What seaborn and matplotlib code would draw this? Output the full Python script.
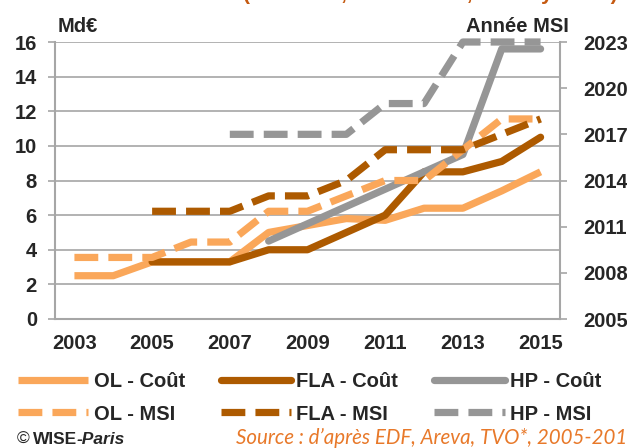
import numpy as np
import matplotlib
matplotlib.use("Agg")
import matplotlib.pyplot as plt
import seaborn as sns

# values
years = list(range(2003, 2016))
nan = np.nan
ol_cout = [2.5, 2.5, 3.3, 3.3, 3.3, 5.0, 5.4, 5.8, 5.7, 6.4, 6.4, 7.4, 8.5]
fla_cout = [nan, nan, 3.3, 3.3, 3.3, 4.0, 4.0, 5.0, 6.0, 8.5, 8.5, 9.1, 10.5]
hp_cout = [nan, nan, nan, nan, nan, 4.5, 5.5, 6.5, 7.5, 8.5, 9.5, 15.6, 15.6]
ol_msi = [2009, 2009, 2009, 2010, 2010, 2012, 2012, 2013, 2014, 2014, 2016, 2018, 2018]
fla_msi = [nan, nan, 2012, 2012, 2012, 2013, 2013, 2014, 2016, 2016, 2016, 2017, 2018]
hp_msi = [nan, nan, nan, nan, 2017, 2017, 2017, 2017, 2019, 2019, 2023, 2023, 2023]

x_labels = [str(y) for y in range(2003, 2016, 2)]
left_ticks = list(range(0, 17, 2))
right_ticks = list(range(2005, 2024, 3))

c_ol = "#FAA75A"
c_fla = "#AD5A00"
c_hp = "#969696"
c_grid = "#A6A6A6"

sns.set_style("white")
plt.rcParams["font.family"] = ["Liberation Sans", "DejaVu Sans"]
plt.rcParams["font.weight"] = "bold"

fig = plt.figure(figsize=(6.27, 4.48), dpi=100)
ax = fig.add_axes([55 / 627, 1 - 319 / 448, 505 / 627, 277 / 448])
ax2 = ax.twinx()

dash = (0, (3.3, 1.4))
lw = 5.2

l1 = sns.lineplot(x=years, y=ol_cout, ax=ax, color=c_ol, lw=lw, label="OL - Coût",
                  solid_capstyle="butt", legend=False).lines[-1]
l2 = sns.lineplot(x=years, y=fla_cout, ax=ax, color=c_fla, lw=lw, label="FLA - Coût",
                  solid_capstyle="round", legend=False).lines[-1]
l3 = sns.lineplot(x=years, y=hp_cout, ax=ax, color=c_hp, lw=lw, label="HP - Coût",
                  solid_capstyle="round", legend=False).lines[-1]
l4 = sns.lineplot(x=years, y=ol_msi, ax=ax2, color=c_ol, lw=lw, linestyle=dash,
                  label="OL - MSI", legend=False).lines[-1]
l5 = sns.lineplot(x=years, y=fla_msi, ax=ax2, color=c_fla, lw=lw, linestyle=dash,
                  label="FLA - MSI", legend=False).lines[-1]
l6 = sns.lineplot(x=years, y=hp_msi, ax=ax2, color=c_hp, lw=lw, linestyle=dash,
                  label="HP - MSI", legend=False, clip_on=False).lines[-1]

ax.set_xlim(2002.5, 2015.5)
ax.set_ylim(0, 16)
ax2.set_ylim(2005, 2023)
ax.set_yticks(left_ticks)
ax2.set_yticks(right_ticks)
ax.set_xticks(range(2003, 2016, 2))
ax.set_xticklabels(x_labels)
ax.set_xticks(np.arange(2002.5, 2016, 1), minor=True)

ax.yaxis.grid(True, color=c_grid, lw=1.2)
ax.set_axisbelow(True)

for a in (ax, ax2):
    for s in a.spines.values():
        s.set_visible(False)
for s in ("left", "bottom"):
    ax.spines[s].set_visible(True)
    ax.spines[s].set_color(c_grid)
    ax.spines[s].set_linewidth(1.5)
ax2.spines["right"].set_visible(True)
ax2.spines["right"].set_color(c_grid)
ax2.spines["right"].set_linewidth(1.5)

fs = 14.5
ax.tick_params(axis="y", length=5, width=1.2, color=c_grid, pad=8, labelsize=fs)
ax2.tick_params(axis="y", length=5, width=1.2, color=c_grid, pad=12, labelsize=fs)
ax.tick_params(axis="x", which="major", length=0, pad=11, labelsize=fs)
ax.tick_params(axis="x", which="minor", length=5, width=1.2, color=c_grid)
for t in ax.get_xticklabels() + ax.get_yticklabels() + ax2.get_yticklabels():
    t.set_fontweight("bold")

fig.text(58 / 627, 1 - 27 / 448, "Md€", fontsize=fs, fontweight="bold", va="center")
fig.text(569 / 627, 1 - 27 / 448, "Année MSI", fontsize=fs, fontweight="bold",
         va="center", ha="right")

# title cut off at the top edge, as in the reference
fig.text(618 / 627, 1.0, "(Olkiluoto, Flamanville, Hinkley Point)", fontsize=15,
         fontweight="bold", color="#C55A11", ha="right", va="baseline")

handles = [l1, l4, l2, l5, l3, l6]
fig.legend(handles, [h.get_label() for h in handles], ncol=3, loc="center left",
           bbox_to_anchor=(18 / 627, 1 - 398 / 448), frameon=False,
           handlelength=3.5, handletextpad=0.25, columnspacing=1.8,
           borderpad=0, borderaxespad=0, labelspacing=0.65,
           prop={"size": fs, "weight": "bold"})

t1 = fig.text(17 / 627, 1 - 439 / 448, "©", fontsize=12.5, fontweight="normal", va="center")
t2 = ax.annotate("WISE", xy=(1, 0.5), xycoords=t1, xytext=(2, 0), textcoords="offset points",
                 fontsize=12.5, fontweight="bold", va="center", annotation_clip=False)
ax.annotate("-Paris", xy=(1, 0.5), xycoords=t2, fontsize=12.5, fontweight="bold",
            fontstyle="italic", va="center", annotation_clip=False)

fig.text(236 / 627, 1 - 438 / 448, "Source : d’après EDF, Areva, TVO*, 2005-2015",
         fontsize=14.8, fontweight="normal", fontstyle="italic", color="#E8792A",
         family=["Lato", "DejaVu Sans"], va="center")

fig.savefig("out.png", dpi=100)
